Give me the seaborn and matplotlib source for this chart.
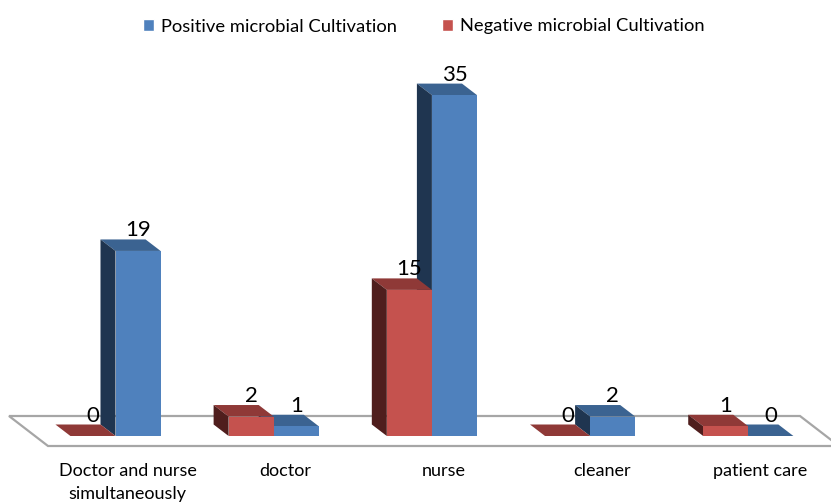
import pandas as pd
import matplotlib
matplotlib.use("Agg")
import matplotlib.pyplot as plt
import seaborn as sns
from matplotlib.patches import Polygon, Patch
from matplotlib.transforms import ScaledTranslation

categories = ["Doctor and nurse\nsimultaneously", "doctor", "nurse", "cleaner", "patient care"]
positive = [19, 1, 35, 2, 0]
negative = [0, 2, 15, 0, 1]
pos_name = "Positive microbial Cultivation"
neg_name = "Negative microbial Cultivation"

W, H = 831, 503
sns.set_theme(style="white")
plt.rcParams["font.family"] = ["Lato", "DejaVu Sans"]

df = pd.DataFrame({
    "category": categories * 2,
    "value": negative + positive,
    "series": [neg_name] * 5 + [pos_name] * 5,
})

# front, top, side shades of each series
shades = {
    neg_name: ("#C5524E", "#8F3937", "#4F1E1D"),
    pos_name: ("#4F81BD", "#3B6391", "#1F3550"),
}

fig = plt.figure(figsize=(W / 100, H / 100), dpi=100)
# axes floor sits on the pixel row of the bar bases
base_px = 436
ax = fig.add_axes([0, (H - base_px) / H, 1, base_px / H])

sns.barplot(data=df, x="category", y="value", hue="series",
            hue_order=[neg_name, pos_name],
            palette={k: v[0] for k, v in shades.items()},
            width=0.57, gap=0, saturation=1, legend=False, ax=ax)

px_per_group = 158.2
px_per_unit = 9.74
ax.set_xlim(-115.5 / px_per_group, (W - 115.5) / px_per_group)
ax.set_ylim(0, base_px / px_per_unit)
dx = -15 / px_per_group
dy = 11.5 / px_per_unit

# floor plate behind the bars
to_x = lambda p: (p - 115.5) / px_per_group
to_y = lambda p: (base_px - p) / px_per_unit
ax.add_patch(Polygon([(to_x(9), to_y(416)), (to_x(800), to_y(416)),
                      (to_x(839), to_y(446)), (to_x(48), to_y(446))],
                     closed=True, facecolor="white", edgecolor="#A6A6A6",
                     linewidth=1.6, clip_on=False, zorder=1))

# fake 3D faces on top of the seaborn bars, red sits in front of blue
names = [neg_name, pos_name]
for s, cont in enumerate(ax.containers):
    front, top, side = shades[names[s]]
    for i, bar in enumerate(cont):
        z = 2 + i * 2 + (1 - s)
        x0, w, h = bar.get_x(), bar.get_width(), bar.get_height()
        bar.set_zorder(z + 0.2)
        bar.set_linewidth(0)
        ax.add_patch(Polygon([(x0, h), (x0 + w, h), (x0 + w + dx, h + dy), (x0 + dx, h + dy)],
                             closed=True, facecolor=top, edgecolor="none", clip_on=False, zorder=z + 0.1))
        if h > 0:
            ax.add_patch(Polygon([(x0, 0), (x0, h), (x0 + dx, h + dy), (x0 + dx, dy)],
                                 closed=True, facecolor=side, edgecolor="none", clip_on=False, zorder=z + 0.1))
        ax.annotate(f"{h:.0f}", (x0 + w / 2, h), xytext=(0, 20.5 * 0.72),
                    textcoords="offset points", ha="center", va="center",
                    fontsize=16, color="black", zorder=30)

ax.set_xlabel("")
ax.set_ylabel("")
ax.set_yticks([])
sns.despine(ax=ax, left=True, bottom=True)
ax.patch.set_alpha(0)
ax.tick_params(axis="x", length=0, pad=19.7)
shift = ScaledTranslation(12 / 100, 0, fig.dpi_scale_trans)
for lab in ax.get_xticklabels():
    lab.set_fontsize(13)
    lab.set_color("black")
    lab.set_linespacing(1.5)
    lab.set_transform(lab.get_transform() + shift)

handles = [Patch(facecolor=shades[pos_name][0], label=pos_name),
           Patch(facecolor=shades[neg_name][0], label=neg_name)]
fig.legend(handles=handles, loc="center", bbox_to_anchor=(424 / W, 1 - 26.5 / H),
           ncol=2, frameon=False, fontsize=13.2, handlelength=0.6, handleheight=0.6,
           handletextpad=0.4, columnspacing=2.45, labelcolor="black")

fig.savefig("out.png", dpi=100)
